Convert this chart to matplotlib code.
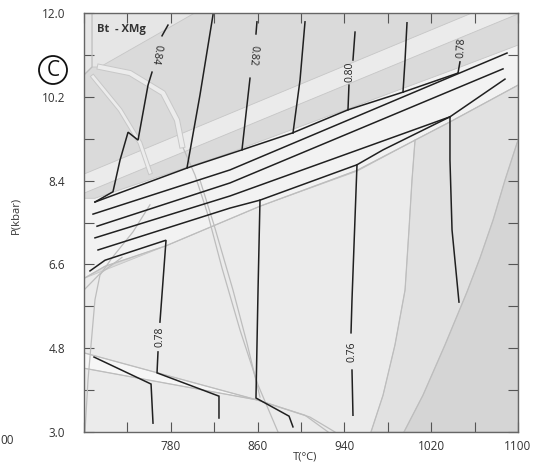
import numpy as np
import matplotlib
matplotlib.use("Agg")
import matplotlib.pyplot as plt
from matplotlib.patches import Polygon, Ellipse
import matplotlib.patheffects as pe

plt.rcParams['font.family'] = ['Open Sans', 'DejaVu Sans']

# ---- field polygons (T in degC, P in kbar) ----
upper_field = [(700, 12.0), (1100, 12.0), (1100, 10.45), (1037.3, 9.66), (1005.1, 9.27),
               (951.6, 8.60), (862.2, 7.85), (775.6, 7.00), (700, 6.30)]
top_left_field = [(700, 12.0), (802.0, 12.0), (714.7, 10.84), (707.4, 10.84), (700, 10.67)]
upper_stripe = [(700, 8.54), (1057.6, 12.0), (1100, 12.0), (1100, 11.98), (700, 8.13)]
band_field = [(700, 8.02), (710.1, 8.02), (834.6, 9.00), (1044.7, 10.82), (1100, 11.31),
              (1100, 10.45), (1037.3, 9.66), (1005.1, 9.27), (951.6, 8.62), (862.2, 7.85),
              (775.6, 7.00), (719.4, 6.56), (700, 6.30)]
mid_right_field = [(1005.1, 9.27), (1002.3, 8.41), (999.5, 7.34), (995.9, 6.05), (986.6, 4.87),
                   (975.6, 3.79), (964.5, 3.0), (1100, 3.0), (1100, 10.45), (1037.3, 9.66)]
dark_right_field = [(1100, 9.27), (1088.0, 8.41), (1077.0, 7.55), (1065.0, 6.74), (1053.0, 6.01),
                    (1032.7, 4.87), (1012.4, 3.79), (994.9, 3.0), (1100, 3.0)]
low_wedge = [(700, 4.70), (859.4, 3.69), (700, 4.37)]

# ---- grey phase boundaries ----
arc_strip = [(714.7, 10.84), (742.4, 10.71), (772.8, 10.28), (785.7, 9.70), (790.3, 9.16)]
side_strip = [(708.3, 10.63), (733.2, 9.92), (751.6, 9.21), (760.8, 8.58)]
grey_lines = [
    [(790.3, 9.16), (802.3, 8.52), (814.3, 7.66), (827.2, 6.52), (843.8, 5.19), (860.4, 4.01), (878.8, 3.0)],
    [(806.9, 8.41), (819.8, 7.45), (837.3, 6.05), (850.2, 4.91), (862.2, 3.75)],
    [(760.8, 7.88), (745.2, 7.30), (725.8, 6.74), (714.7, 6.37), (710.1, 5.84), (703.7, 4.12), (700.9, 3.0)],
    [(707.4, 12.0), (707.4, 10.84), (700, 10.67)],
    [(700, 4.70), (859.4, 3.69), (908.3, 3.32), (931.3, 3.0)],
    [(700, 4.37), (859.4, 3.69), (903.7, 3.36), (925.0, 3.0)],
    [(1005.1, 9.27), (1002.3, 8.41), (999.5, 7.34), (995.9, 6.05), (986.6, 4.87), (975.6, 3.79), (964.5, 3.0)],
    [(1100, 9.27), (1088.0, 8.41), (1077.0, 7.55), (1065.0, 6.74), (1053.0, 6.01), (1032.7, 4.87), (1012.4, 3.79), (994.9, 3.0)],
    [(700, 6.30), (719.4, 6.56), (775.6, 7.00), (862.2, 7.85), (951.6, 8.62), (1037.3, 9.66), (1100, 10.45)],
    [(700, 6.05), (714.7, 6.40), (735.0, 6.75)],
]

# ---- Bt XMg isopleths (black) ----
isopleths = [
    [(777.4, 11.74), (771.9, 11.51)],
    [(762.7, 10.73), (759.0, 10.45), (749.8, 9.27), (740.6, 9.44), (733.2, 8.84), (726.7, 8.16), (710.1, 7.94)],
    [(818.9, 11.96), (806.9, 10.24), (794.9, 8.67)],
    [(859.4, 11.81), (858.5, 11.55)],
    [(853.0, 10.60), (845.6, 9.06)],
    [(903.7, 11.81), (899.1, 10.56), (892.6, 9.42)],
    [(949.8, 11.59), (947.9, 10.99)],
    [(944.2, 10.45), (943.3, 9.92)],
    [(997.7, 11.79), (995.9, 10.99), (994.0, 10.30)],
    [(1046.5, 10.95), (1044.7, 10.71)],
    # diagonal bundle
    [(710.1, 7.94), (794.9, 8.67), (845.6, 9.06), (891.7, 9.42), (943.3, 9.92), (994.0, 10.30), (1044.7, 10.71)],
    [(708.3, 7.68), (834.6, 8.63), (1089.9, 11.14)],
    [(712.0, 7.42), (834.6, 8.35), (1086.2, 10.80)],
    [(710.1, 7.17), (834.6, 8.07), (1037.3, 9.77), (1088.0, 10.58)],
    [(712.9, 6.91), (834.6, 7.81), (862.2, 7.98), (951.6, 8.74), (975.6, 9.06), (1037.3, 9.77)],
    # lower field
    [(705.5, 6.46), (719.4, 6.69), (775.6, 7.12), (770.0, 5.36)],
    [(768.2, 4.72), (767.3, 4.27), (824.4, 3.77), (824.4, 3.30)],
    [(709.2, 4.61), (761.8, 4.03), (763.6, 3.19)],
    [(862.2, 7.98), (860.4, 6.05), (858.5, 3.73), (889.0, 3.34), (892.6, 3.11)],
    [(951.6, 8.74), (947.0, 5.84), (946.1, 5.13)],
    [(947.0, 4.33), (947.9, 3.36)],
    [(1037.3, 9.77), (1037.3, 8.84), (1039.2, 7.34), (1045.6, 5.79)],
]

label_text = ["0.84", "0.82", "0.80", "0.78", "0.78", "0.76"]
label_T = [766.4, 855.8, 945.2, 1048.4, 770.0, 947.0]
label_P = [11.12, 11.08, 10.73, 11.25, 5.04, 4.72]
label_rot = [-100, -95, 90, 87, 90, 90]

fig = plt.figure(figsize=(5.41, 4.70), dpi=100)
ax = fig.add_axes([84 / 541, 38 / 470, 434 / 541, 419 / 470])
ax.set_facecolor('#ebebeb')

for pts, col in [(upper_field, '#dadada'), (top_left_field, '#e6e6e6'), (upper_stripe, '#ebebeb'),
                 (band_field, '#f2f2f2'), (mid_right_field, '#e1e1e1'),
                 (dark_right_field, '#d5d5d5'), (low_wedge, '#f6f6f6')]:
    ax.add_patch(Polygon(pts, closed=True, facecolor=col, edgecolor='#c6c6c6', lw=0.6, zorder=1))

for pts in grey_lines:
    t, p = zip(*pts)
    ax.plot(t, p, color='#bdbdbd', lw=0.9, zorder=2)

for pts, w in [(arc_strip, 3), (side_strip, 2)]:
    t, p = zip(*pts)
    ax.plot(t, p, color='#ececec', lw=w, zorder=2,
            path_effects=[pe.Stroke(linewidth=w + 1.4, foreground='#c8c8c8'), pe.Normal()])

for pts in isopleths:
    t, p = zip(*pts)
    ax.plot(t, p, color='#202020', lw=1.1, zorder=3, solid_joinstyle='miter')

for s, t, p, r in zip(label_text, label_T, label_P, label_rot):
    ax.text(t, p, s, rotation=r, fontsize=7.5, color='#222222', ha='center', va='center',
            rotation_mode='anchor', zorder=4)

ax.text(0.03, 0.96, "Bt  - XMg", transform=ax.transAxes, fontsize=8, fontweight='bold',
        color='#333333', ha='left', va='center', zorder=4)

ax.set_xlim(700, 1100)
ax.set_ylim(3.0, 12.0)
xt = np.arange(700, 1101, 40)
ax.set_xticks(xt)
ax.set_xticklabels([str(v) if (v - 700) % 80 == 0 and v != 700 else '' for v in xt])
yt = np.round(np.arange(3.0, 12.01, 0.9), 1)
ax.set_yticks(yt)
ax.set_yticklabels([f"{v:.1f}" if i % 2 == 0 else '' for i, v in enumerate(yt)])
ax.tick_params(direction='in', length=7, width=0.8, color='#555555', top=True, right=True,
               labelsize=8.5, labelcolor='#333333')
ax.tick_params(axis='y', pad=13.5)
ax.tick_params(axis='x', pad=6)
for sp in ax.spines.values():
    sp.set_color('#666666')
    sp.set_linewidth(1.0)

fig.text(16 / 541, 1 - 215 / 470, "P(kbar)", rotation=90, fontsize=8, color='#333333',
         ha='center', va='center')
fig.text(305 / 541, 1 - 457 / 470, "T(°C)", fontsize=8, color='#333333', ha='center', va='center')
fig.text(0.0, 1 - 440 / 470, "00", fontsize=8.5, color='#333333', ha='left', va='center')

fig.patches.append(Ellipse((53 / 541, 1 - 70 / 470), 28 / 541, 28 / 470, transform=fig.transFigure,
                           fill=False, edgecolor='#111111', lw=1.3))
fig.text(53 / 541, 1 - 70 / 470, "C", fontsize=15, color='#111111', ha='center', va='center')

fig.savefig("out.png", dpi=100)
